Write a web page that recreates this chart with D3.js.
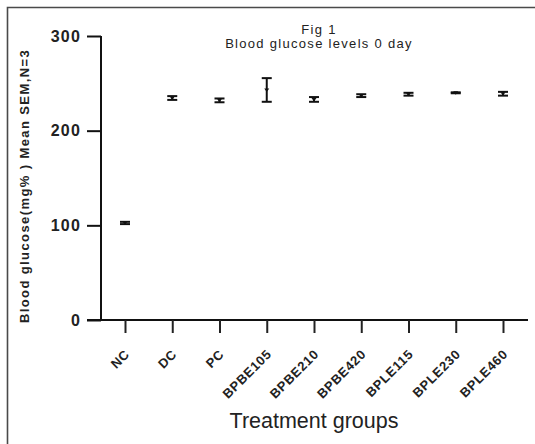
<!DOCTYPE html>
<html><head><meta charset="utf-8">
<script src="https://cdn.jsdelivr.net/npm/d3@7"></script>
<style>body{margin:0;background:#fff}svg{display:block}</style>
</head><body>
<script>
const categories = ["NC","DC","PC","BPBE105","BPBE210","BPBE420","BPLE115","BPLE230","BPLE460"];
const means = [102.5, 234.5, 232, 243, 233, 237, 238.5, 240, 239];
const sems  = [1.2, 2, 2, 12.5, 2.5, 1.5, 1.5, 0.5, 2];
const yTicks = [0, 100, 200, 300];
const titleLines = ["Fig 1", "Blood glucose levels 0 day"];
const yLabel = "Blood glucose(mg% ) Mean SEM,N=3";
const xLabel = "Treatment groups";

const W = 535, H = 444;
const svg = d3.select("body").append("svg").attr("width", W).attr("height", H);

// frame
svg.append("path").attr("d", `M7.5,${H} V7.5 H${W}`).attr("fill","none").attr("stroke","#4a4a4a").attr("stroke-width",1.6);

const x = d3.scalePoint().domain(categories).range([125, 503]);
const y = d3.scaleLinear().domain([0, 300]).range([320, 36]);

// y axis
const yAx = svg.append("g").attr("transform","translate(101,0)")
  .call(d3.axisLeft(y).tickValues(yTicks).tickSize(14).tickPadding(6));
yAx.select(".domain").attr("d", `M0,${y(300)}V${y(0)}`).attr("stroke","#111").attr("stroke-width",2);
yAx.selectAll(".tick line").attr("stroke","#111").attr("stroke-width",2);
yAx.selectAll(".tick text").attr("font-family","Liberation Sans, Arial, sans-serif")
  .attr("font-weight","bold").attr("font-size",16).attr("letter-spacing","1.2px").attr("fill","#222");

// x axis
const xAx = svg.append("g").attr("transform",`translate(0,${y(0)})`)
  .call(d3.axisBottom(x).tickSize(13).tickPadding(0));
xAx.select(".domain").attr("d", "M87,0H528").attr("stroke","#111").attr("stroke-width",2);
xAx.selectAll(".tick line").attr("stroke","#222").attr("stroke-width",2);
xAx.selectAll(".tick text")
  .attr("font-family","Liberation Sans, Arial, sans-serif").attr("font-weight","bold")
  .attr("font-size",13).attr("letter-spacing","0.7px").attr("fill","#222")
  .attr("text-anchor","end").attr("dy",null).attr("y",0)
  .attr("transform","translate(5,35) rotate(-45)");

// error bars
const data = categories.map((c,i)=>({c, m:means[i], s:sems[i]}));
const g = svg.append("g");
const cap = 5;
data.forEach(d=>{
  const cx = x(d.c);
  g.append("line").attr("x1",cx).attr("x2",cx).attr("y1",y(d.m+d.s)).attr("y2",y(d.m-d.s)).attr("stroke","#111").attr("stroke-width",2);
  [d.m+d.s, d.m-d.s].forEach(v=>{
    g.append("line").attr("x1",cx-cap).attr("x2",cx+cap).attr("y1",y(v)).attr("y2",y(v)).attr("stroke","#111").attr("stroke-width",2);
  });
  g.append("path").attr("d", `M${cx-2.5},${y(d.m)-1.5} L${cx+2.5},${y(d.m)-1.5} L${cx},${y(d.m)+2} Z`).attr("fill","#111");
});

// title
const t = svg.append("text").attr("text-anchor","middle").attr("font-family","Liberation Sans, Arial, sans-serif")
  .attr("font-size",13).attr("letter-spacing","1.3px").attr("fill","#222");
titleLines.forEach((l,i)=>t.append("tspan").attr("x",319).attr("y",34+i*14).text(l));

// y label
svg.append("text").attr("transform","translate(29,186) rotate(-90)").attr("text-anchor","middle")
  .attr("font-family","Liberation Sans, Arial, sans-serif").attr("font-weight","bold")
  .attr("font-size",13).attr("letter-spacing","1.4px").attr("fill","#222").text(yLabel);

// x label
svg.append("text").attr("x",314).attr("y",428).attr("text-anchor","middle")
  .attr("font-family","Liberation Sans, Arial, sans-serif").attr("font-size",21.5).attr("fill","#222").text(xLabel);
</script>
</body></html>
